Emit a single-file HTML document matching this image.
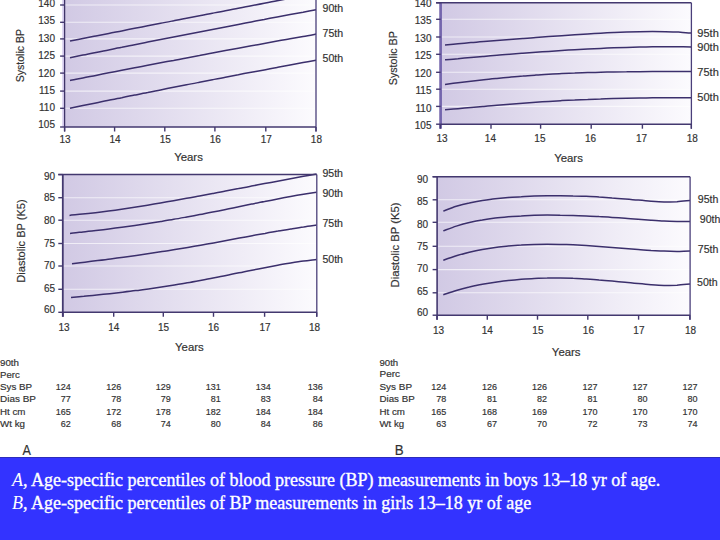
<!DOCTYPE html>
<html><head><meta charset="utf-8">
<style>
html,body{margin:0;padding:0;width:720px;height:540px;overflow:hidden;background:#fff;}
svg{position:absolute;left:0;top:0;}
svg text{font-family:"Liberation Sans",sans-serif;fill:#303030;stroke:#3a3a3a;stroke-width:0.18px;}
#cap{position:absolute;left:0;top:457px;width:720px;height:83px;background:#3333ff;border-top:1px solid #2d2dbb;box-sizing:border-box;}
#cap i{-webkit-text-stroke:0;}
#cap p{margin:0;position:absolute;left:12px;font-family:"Liberation Serif",serif;font-size:18px;color:#fff;white-space:nowrap;line-height:1;-webkit-text-stroke:0.35px #fff;}
</style></head><body>
<svg width="720" height="457" viewBox="0 0 720 457">
<defs><linearGradient id="ga1" x1="0" y1="0" x2="1" y2="0"><stop offset="0" stop-color="#d1c9e4"/><stop offset="1" stop-color="#fcfbfe"/></linearGradient></defs>
<rect x="64.6" y="-20.0" width="251.4" height="147.0" fill="url(#ga1)"/>
<line x1="64.60" y1="5.00" x2="316.00" y2="5.00" stroke="#fff" stroke-width="1.10" stroke-opacity="0.65"/>
<line x1="64.60" y1="22.30" x2="316.00" y2="22.30" stroke="#fff" stroke-width="1.10" stroke-opacity="0.65"/>
<line x1="64.60" y1="38.90" x2="316.00" y2="38.90" stroke="#fff" stroke-width="1.10" stroke-opacity="0.65"/>
<line x1="64.60" y1="56.10" x2="316.00" y2="56.10" stroke="#fff" stroke-width="1.10" stroke-opacity="0.65"/>
<line x1="64.60" y1="73.10" x2="316.00" y2="73.10" stroke="#fff" stroke-width="1.10" stroke-opacity="0.65"/>
<line x1="64.60" y1="91.10" x2="316.00" y2="91.10" stroke="#fff" stroke-width="1.10" stroke-opacity="0.65"/>
<line x1="64.60" y1="108.30" x2="316.00" y2="108.30" stroke="#fff" stroke-width="1.10" stroke-opacity="0.65"/>
<path d="M70.0,41.0 C72.2,40.6 78.6,39.3 82.9,38.5 C87.3,37.6 91.6,36.8 95.9,35.9 C100.2,35.1 104.5,34.2 108.8,33.4 C113.2,32.6 117.5,31.7 121.8,30.9 C126.1,30.0 130.4,29.2 134.7,28.3 C139.1,27.5 143.4,26.7 147.7,25.8 C152.0,25.0 156.3,24.1 160.6,23.3 C164.9,22.4 169.3,21.6 173.6,20.8 C177.9,19.9 182.2,19.1 186.5,18.3 C190.8,17.4 195.2,16.6 199.5,15.7 C203.8,14.9 208.1,14.1 212.4,13.2 C216.7,12.4 221.1,11.6 225.4,10.7 C229.7,9.9 234.0,9.1 238.3,8.2 C242.6,7.4 246.9,6.6 251.3,5.7 C255.6,4.9 259.9,4.1 264.2,3.2 C268.5,2.4 272.8,1.6 277.2,0.7 C281.5,-0.1 285.8,-0.9 290.1,-1.7 C294.4,-2.6 298.7,-3.4 303.1,-4.2 C307.4,-5.1 313.8,-6.3 316.0,-6.7" fill="none" stroke="#3b2f6c" stroke-width="1.5"/>
<path d="M70.0,57.8 C72.2,57.3 78.6,56.0 82.9,55.1 C87.3,54.3 91.6,53.4 95.9,52.5 C100.2,51.6 104.5,50.7 108.8,49.9 C113.2,49.0 117.5,48.1 121.8,47.3 C126.1,46.4 130.4,45.5 134.7,44.7 C139.1,43.8 143.4,43.0 147.7,42.1 C152.0,41.2 156.3,40.4 160.6,39.5 C164.9,38.7 169.3,37.8 173.6,37.0 C177.9,36.1 182.2,35.3 186.5,34.4 C190.8,33.6 195.2,32.7 199.5,31.9 C203.8,31.1 208.1,30.2 212.4,29.4 C216.7,28.6 221.1,27.7 225.4,26.9 C229.7,26.1 234.0,25.2 238.3,24.4 C242.6,23.6 246.9,22.7 251.3,21.9 C255.6,21.1 259.9,20.3 264.2,19.5 C268.5,18.6 272.8,17.8 277.2,17.0 C281.5,16.2 285.8,15.4 290.1,14.6 C294.4,13.8 298.7,13.0 303.1,12.2 C307.4,11.3 313.8,10.1 316.0,9.7" fill="none" stroke="#3b2f6c" stroke-width="1.5"/>
<path d="M70.0,80.5 C72.2,80.0 78.6,78.8 82.9,77.9 C87.3,77.1 91.6,76.2 95.9,75.4 C100.2,74.5 104.5,73.7 108.8,72.8 C113.2,72.0 117.5,71.1 121.8,70.3 C126.1,69.5 130.4,68.6 134.7,67.8 C139.1,67.0 143.4,66.1 147.7,65.3 C152.0,64.5 156.3,63.6 160.6,62.8 C164.9,62.0 169.3,61.2 173.6,60.4 C177.9,59.5 182.2,58.7 186.5,57.9 C190.8,57.1 195.2,56.3 199.5,55.5 C203.8,54.6 208.1,53.8 212.4,53.0 C216.7,52.2 221.1,51.4 225.4,50.6 C229.7,49.8 234.0,49.0 238.3,48.2 C242.6,47.4 246.9,46.6 251.3,45.8 C255.6,45.0 259.9,44.3 264.2,43.5 C268.5,42.7 272.8,41.9 277.2,41.1 C281.5,40.3 285.8,39.5 290.1,38.8 C294.4,38.0 298.7,37.2 303.1,36.4 C307.4,35.7 313.8,34.5 316.0,34.1" fill="none" stroke="#3b2f6c" stroke-width="1.5"/>
<path d="M70.0,108.3 C72.2,107.8 78.6,106.5 82.9,105.6 C87.3,104.7 91.6,103.8 95.9,102.9 C100.2,102.1 104.5,101.2 108.8,100.3 C113.2,99.4 117.5,98.5 121.8,97.7 C126.1,96.8 130.4,95.9 134.7,95.1 C139.1,94.2 143.4,93.3 147.7,92.5 C152.0,91.6 156.3,90.7 160.6,89.9 C164.9,89.0 169.3,88.2 173.6,87.3 C177.9,86.5 182.2,85.6 186.5,84.8 C190.8,83.9 195.2,83.1 199.5,82.3 C203.8,81.4 208.1,80.6 212.4,79.7 C216.7,78.9 221.1,78.1 225.4,77.2 C229.7,76.4 234.0,75.6 238.3,74.8 C242.6,73.9 246.9,73.1 251.3,72.3 C255.6,71.5 259.9,70.7 264.2,69.9 C268.5,69.1 272.8,68.2 277.2,67.4 C281.5,66.6 285.8,65.8 290.1,65.0 C294.4,64.2 298.7,63.4 303.1,62.6 C307.4,61.8 313.8,60.7 316.0,60.3" fill="none" stroke="#3b2f6c" stroke-width="1.5"/>
<line x1="63.20" y1="-20.00" x2="63.20" y2="127.00" stroke="#d9d0f0" stroke-width="2.00"/>
<line x1="64.60" y1="-20.00" x2="64.60" y2="131.50" stroke="#3f3468" stroke-width="1.30"/>
<line x1="316.00" y1="-20.00" x2="316.00" y2="131.50" stroke="#4a3f7a" stroke-width="1.30"/>
<line x1="64.60" y1="127.00" x2="316.00" y2="127.00" stroke="#43386f" stroke-width="1.40"/>
<line x1="60.10" y1="5.00" x2="64.60" y2="5.00" stroke="#43386f" stroke-width="1.40"/>
<text x="55.0" y="6.8" text-anchor="end" font-size="10">140</text>
<line x1="60.10" y1="22.30" x2="64.60" y2="22.30" stroke="#43386f" stroke-width="1.40"/>
<text x="55.0" y="24.3" text-anchor="end" font-size="10">135</text>
<line x1="60.10" y1="38.90" x2="64.60" y2="38.90" stroke="#43386f" stroke-width="1.40"/>
<text x="55.0" y="41.9" text-anchor="end" font-size="10">130</text>
<line x1="60.10" y1="56.10" x2="64.60" y2="56.10" stroke="#43386f" stroke-width="1.40"/>
<text x="55.0" y="59.0" text-anchor="end" font-size="10">125</text>
<line x1="60.10" y1="73.10" x2="64.60" y2="73.10" stroke="#43386f" stroke-width="1.40"/>
<text x="55.0" y="76.6" text-anchor="end" font-size="10">120</text>
<line x1="60.10" y1="91.10" x2="64.60" y2="91.10" stroke="#43386f" stroke-width="1.40"/>
<text x="55.0" y="93.8" text-anchor="end" font-size="10">115</text>
<line x1="60.10" y1="108.30" x2="64.60" y2="108.30" stroke="#43386f" stroke-width="1.40"/>
<text x="55.0" y="111.4" text-anchor="end" font-size="10">110</text>
<line x1="60.10" y1="127.00" x2="64.60" y2="127.00" stroke="#43386f" stroke-width="1.40"/>
<text x="55.0" y="128.2" text-anchor="end" font-size="10">105</text>
<line x1="64.60" y1="127.00" x2="64.60" y2="131.50" stroke="#43386f" stroke-width="1.40"/>
<text x="65.0" y="143.2" text-anchor="middle" font-size="10">13</text>
<line x1="114.60" y1="127.00" x2="114.60" y2="131.50" stroke="#43386f" stroke-width="1.40"/>
<text x="115.0" y="143.2" text-anchor="middle" font-size="10">14</text>
<line x1="164.80" y1="127.00" x2="164.80" y2="131.50" stroke="#43386f" stroke-width="1.40"/>
<text x="165.2" y="143.2" text-anchor="middle" font-size="10">15</text>
<line x1="214.90" y1="127.00" x2="214.90" y2="131.50" stroke="#43386f" stroke-width="1.40"/>
<text x="215.3" y="143.2" text-anchor="middle" font-size="10">16</text>
<line x1="265.80" y1="127.00" x2="265.80" y2="131.50" stroke="#43386f" stroke-width="1.40"/>
<text x="266.2" y="143.2" text-anchor="middle" font-size="10">17</text>
<line x1="316.00" y1="127.00" x2="316.00" y2="131.50" stroke="#43386f" stroke-width="1.40"/>
<text x="316.4" y="143.2" text-anchor="middle" font-size="10">18</text>
<text x="188.5" y="161.2" text-anchor="middle" font-size="11" textLength="28.7" lengthAdjust="spacingAndGlyphs">Years</text>
<text transform="translate(23.5,55.6) rotate(-90)" text-anchor="middle" font-size="11" textLength="53.3" lengthAdjust="spacingAndGlyphs">Systolic BP</text>
<text x="322.5" y="12.0" font-size="10" textLength="20.6" lengthAdjust="spacingAndGlyphs">90th</text>
<text x="322.5" y="36.6" font-size="10" textLength="20.6" lengthAdjust="spacingAndGlyphs">75th</text>
<text x="322.5" y="62.0" font-size="10" textLength="20.6" lengthAdjust="spacingAndGlyphs">50th</text>
<defs><linearGradient id="ga2" x1="0" y1="0" x2="1" y2="0"><stop offset="0" stop-color="#d1c9e4"/><stop offset="1" stop-color="#fcfbfe"/></linearGradient></defs>
<rect x="62.8" y="174.6" width="254.0" height="137.7" fill="url(#ga2)"/>
<line x1="62.80" y1="197.70" x2="316.80" y2="197.70" stroke="#fff" stroke-width="1.10" stroke-opacity="0.65"/>
<line x1="62.80" y1="220.20" x2="316.80" y2="220.20" stroke="#fff" stroke-width="1.10" stroke-opacity="0.65"/>
<line x1="62.80" y1="243.50" x2="316.80" y2="243.50" stroke="#fff" stroke-width="1.10" stroke-opacity="0.65"/>
<line x1="62.80" y1="266.00" x2="316.80" y2="266.00" stroke="#fff" stroke-width="1.10" stroke-opacity="0.65"/>
<line x1="62.80" y1="289.30" x2="316.80" y2="289.30" stroke="#fff" stroke-width="1.10" stroke-opacity="0.65"/>
<path d="M69.5,215.4 C71.7,215.1 78.2,214.6 82.5,214.1 C86.8,213.7 91.2,213.2 95.5,212.7 C99.8,212.2 104.2,211.6 108.5,211.0 C112.8,210.5 117.2,209.9 121.5,209.2 C125.8,208.6 130.2,207.9 134.5,207.3 C138.8,206.6 143.2,205.9 147.5,205.2 C151.8,204.5 156.2,203.7 160.5,203.0 C164.8,202.2 169.2,201.5 173.5,200.7 C177.8,199.9 182.2,199.1 186.5,198.3 C190.8,197.6 195.2,196.7 199.5,195.9 C203.8,195.1 208.2,194.3 212.5,193.5 C216.8,192.7 221.2,191.9 225.5,191.0 C229.8,190.2 234.2,189.4 238.5,188.6 C242.8,187.7 247.2,186.9 251.5,186.1 C255.8,185.3 260.2,184.4 264.5,183.6 C268.8,182.8 273.2,182.0 277.5,181.2 C281.8,180.4 286.2,179.5 290.5,178.7 C294.8,177.9 299.2,177.1 303.5,176.3 C307.8,175.5 314.3,174.4 316.5,174.0" fill="none" stroke="#3b2f6c" stroke-width="1.5"/>
<path d="M70.0,233.4 C72.2,233.1 78.6,232.4 83.0,231.9 C87.3,231.5 91.6,231.0 95.9,230.5 C100.3,230.0 104.6,229.5 108.9,228.9 C113.2,228.4 117.6,227.8 121.9,227.3 C126.2,226.7 130.5,226.1 134.9,225.5 C139.2,224.9 143.5,224.2 147.8,223.6 C152.2,222.9 156.5,222.2 160.8,221.5 C165.1,220.8 169.5,220.1 173.8,219.3 C178.1,218.6 182.4,217.8 186.8,217.0 C191.1,216.2 195.4,215.4 199.7,214.6 C204.1,213.8 208.4,212.9 212.7,212.0 C217.0,211.2 221.4,210.3 225.7,209.4 C230.0,208.6 234.3,207.7 238.7,206.8 C243.0,205.9 247.3,205.0 251.6,204.1 C256.0,203.2 260.3,202.3 264.6,201.5 C268.9,200.6 273.3,199.7 277.6,198.9 C281.9,198.1 286.2,197.2 290.6,196.4 C294.9,195.7 299.2,194.9 303.5,194.2 C307.9,193.5 314.3,192.5 316.5,192.2" fill="none" stroke="#3b2f6c" stroke-width="1.5"/>
<path d="M72.0,263.8 C74.1,263.5 80.6,262.7 84.9,262.2 C89.2,261.6 93.4,261.1 97.7,260.5 C102.0,260.0 106.3,259.5 110.6,258.9 C114.9,258.3 119.2,257.8 123.5,257.2 C127.8,256.6 132.1,256.0 136.3,255.4 C140.6,254.8 144.9,254.2 149.2,253.6 C153.5,252.9 157.8,252.3 162.1,251.6 C166.4,250.9 170.7,250.3 174.9,249.6 C179.2,248.9 183.5,248.1 187.8,247.4 C192.1,246.7 196.4,245.9 200.7,245.2 C205.0,244.4 209.3,243.7 213.6,242.9 C217.8,242.1 222.1,241.3 226.4,240.5 C230.7,239.7 235.0,238.9 239.3,238.1 C243.6,237.3 247.9,236.5 252.2,235.7 C256.4,234.9 260.7,234.1 265.0,233.4 C269.3,232.6 273.6,231.8 277.9,231.1 C282.2,230.3 286.5,229.6 290.8,228.9 C295.1,228.2 299.3,227.5 303.6,226.9 C307.9,226.2 314.4,225.4 316.5,225.1" fill="none" stroke="#3b2f6c" stroke-width="1.5"/>
<path d="M71.0,297.5 C73.2,297.3 79.6,296.7 83.9,296.3 C88.2,295.8 92.5,295.4 96.8,295.0 C101.1,294.6 105.5,294.1 109.8,293.7 C114.1,293.2 118.4,292.7 122.7,292.2 C127.0,291.7 131.3,291.2 135.6,290.6 C139.9,290.1 144.2,289.5 148.5,288.9 C152.8,288.3 157.1,287.6 161.4,287.0 C165.8,286.3 170.1,285.6 174.4,284.9 C178.7,284.2 183.0,283.5 187.3,282.7 C191.6,282.0 195.9,281.2 200.2,280.4 C204.5,279.6 208.8,278.8 213.1,277.9 C217.4,277.1 221.7,276.3 226.1,275.4 C230.4,274.6 234.7,273.7 239.0,272.8 C243.3,272.0 247.6,271.1 251.9,270.2 C256.2,269.4 260.5,268.5 264.8,267.7 C269.1,266.9 273.4,266.1 277.7,265.3 C282.0,264.5 286.4,263.8 290.7,263.1 C295.0,262.4 299.3,261.7 303.6,261.1 C307.9,260.5 314.3,259.8 316.5,259.5" fill="none" stroke="#3b2f6c" stroke-width="1.5"/>
<line x1="62.80" y1="174.60" x2="62.80" y2="316.80" stroke="#43386f" stroke-width="1.80"/>
<line x1="316.80" y1="174.60" x2="316.80" y2="316.80" stroke="#4a3f7a" stroke-width="1.30"/>
<line x1="62.80" y1="312.30" x2="316.80" y2="312.30" stroke="#43386f" stroke-width="1.40"/>
<line x1="58.30" y1="174.60" x2="316.80" y2="174.60" stroke="#43386f" stroke-width="1.50"/>
<line x1="58.30" y1="174.60" x2="62.80" y2="174.60" stroke="#43386f" stroke-width="1.40"/>
<text x="55.0" y="180.2" text-anchor="end" font-size="10">90</text>
<line x1="58.30" y1="197.70" x2="62.80" y2="197.70" stroke="#43386f" stroke-width="1.40"/>
<text x="55.0" y="201.3" text-anchor="end" font-size="10">85</text>
<line x1="58.30" y1="220.20" x2="62.80" y2="220.20" stroke="#43386f" stroke-width="1.40"/>
<text x="55.0" y="223.8" text-anchor="end" font-size="10">80</text>
<line x1="58.30" y1="243.50" x2="62.80" y2="243.50" stroke="#43386f" stroke-width="1.40"/>
<text x="55.0" y="247.1" text-anchor="end" font-size="10">75</text>
<line x1="58.30" y1="266.00" x2="62.80" y2="266.00" stroke="#43386f" stroke-width="1.40"/>
<text x="55.0" y="268.7" text-anchor="end" font-size="10">70</text>
<line x1="58.30" y1="289.30" x2="62.80" y2="289.30" stroke="#43386f" stroke-width="1.40"/>
<text x="55.0" y="291.5" text-anchor="end" font-size="10">65</text>
<line x1="58.30" y1="312.30" x2="62.80" y2="312.30" stroke="#43386f" stroke-width="1.40"/>
<text x="55.0" y="312.6" text-anchor="end" font-size="10">60</text>
<line x1="63.00" y1="312.30" x2="63.00" y2="316.80" stroke="#43386f" stroke-width="1.40"/>
<text x="64.0" y="330.6" text-anchor="middle" font-size="10">13</text>
<line x1="113.70" y1="312.30" x2="113.70" y2="316.80" stroke="#43386f" stroke-width="1.40"/>
<text x="113.7" y="330.6" text-anchor="middle" font-size="10">14</text>
<line x1="163.30" y1="312.30" x2="163.30" y2="316.80" stroke="#43386f" stroke-width="1.40"/>
<text x="163.5" y="330.6" text-anchor="middle" font-size="10">15</text>
<line x1="213.50" y1="312.30" x2="213.50" y2="316.80" stroke="#43386f" stroke-width="1.40"/>
<text x="213.5" y="330.6" text-anchor="middle" font-size="10">16</text>
<line x1="264.60" y1="312.30" x2="264.60" y2="316.80" stroke="#43386f" stroke-width="1.40"/>
<text x="265.0" y="330.6" text-anchor="middle" font-size="10">17</text>
<line x1="316.70" y1="312.30" x2="316.70" y2="316.80" stroke="#43386f" stroke-width="1.40"/>
<text x="314.6" y="330.6" text-anchor="middle" font-size="10">18</text>
<text x="189.4" y="351.4" text-anchor="middle" font-size="11" textLength="28.7" lengthAdjust="spacingAndGlyphs">Years</text>
<text transform="translate(24.6,241.0) rotate(-90)" text-anchor="middle" font-size="11" textLength="83.3" lengthAdjust="spacingAndGlyphs">Diastolic BP (K5)</text>
<text x="322.4" y="177.1" font-size="10" textLength="20.6" lengthAdjust="spacingAndGlyphs">95th</text>
<text x="322.4" y="197.3" font-size="10" textLength="20.6" lengthAdjust="spacingAndGlyphs">90th</text>
<text x="322.4" y="227.1" font-size="10" textLength="20.6" lengthAdjust="spacingAndGlyphs">75th</text>
<text x="322.4" y="262.6" font-size="10" textLength="20.6" lengthAdjust="spacingAndGlyphs">50th</text>
<defs><linearGradient id="gb1" x1="0" y1="0" x2="1" y2="0"><stop offset="0" stop-color="#d1c9e4"/><stop offset="1" stop-color="#fcfbfe"/></linearGradient></defs>
<rect x="440.6" y="2.8" width="250.8" height="121.4" fill="url(#gb1)"/>
<line x1="440.60" y1="19.30" x2="691.40" y2="19.30" stroke="#fff" stroke-width="1.10" stroke-opacity="0.65"/>
<line x1="440.60" y1="37.00" x2="691.40" y2="37.00" stroke="#fff" stroke-width="1.10" stroke-opacity="0.65"/>
<line x1="440.60" y1="54.30" x2="691.40" y2="54.30" stroke="#fff" stroke-width="1.10" stroke-opacity="0.65"/>
<line x1="440.60" y1="72.30" x2="691.40" y2="72.30" stroke="#fff" stroke-width="1.10" stroke-opacity="0.65"/>
<line x1="440.60" y1="89.20" x2="691.40" y2="89.20" stroke="#fff" stroke-width="1.10" stroke-opacity="0.65"/>
<line x1="440.60" y1="106.40" x2="691.40" y2="106.40" stroke="#fff" stroke-width="1.10" stroke-opacity="0.65"/>
<path d="M445.0,45.0 C447.2,44.8 453.6,44.2 458.0,43.8 C462.3,43.4 466.6,43.0 470.9,42.6 C475.3,42.3 479.6,41.9 483.9,41.5 C488.2,41.2 492.6,40.8 496.9,40.5 C501.2,40.2 505.5,39.8 509.8,39.5 C514.2,39.2 518.5,38.8 522.8,38.5 C527.1,38.2 531.5,37.9 535.8,37.5 C540.1,37.2 544.4,36.9 548.7,36.6 C553.1,36.3 557.4,36.0 561.7,35.7 C566.0,35.4 570.4,35.1 574.7,34.8 C579.0,34.5 583.3,34.2 587.7,33.9 C592.0,33.7 596.3,33.4 600.6,33.2 C604.9,33.0 609.3,32.7 613.6,32.5 C617.9,32.3 622.2,32.2 626.6,32.0 C630.9,31.9 635.2,31.8 639.5,31.7 C643.8,31.6 648.2,31.6 652.5,31.6 C656.8,31.6 661.1,31.6 665.5,31.7 C669.8,31.8 674.1,31.9 678.4,32.1 C682.8,32.4 689.2,32.8 691.4,33.0" fill="none" stroke="#3b2f6c" stroke-width="1.5"/>
<path d="M445.0,59.8 C447.2,59.6 453.6,59.0 458.0,58.7 C462.3,58.3 466.6,57.9 470.9,57.5 C475.3,57.1 479.6,56.8 483.9,56.4 C488.2,56.0 492.6,55.7 496.9,55.3 C501.2,54.9 505.5,54.6 509.8,54.3 C514.2,53.9 518.5,53.6 522.8,53.2 C527.1,52.9 531.5,52.6 535.8,52.3 C540.1,52.0 544.4,51.7 548.7,51.4 C553.1,51.1 557.4,50.8 561.7,50.5 C566.0,50.2 570.4,50.0 574.7,49.7 C579.0,49.5 583.3,49.2 587.7,49.0 C592.0,48.8 596.3,48.6 600.6,48.4 C604.9,48.2 609.3,48.0 613.6,47.8 C617.9,47.7 622.2,47.5 626.6,47.4 C630.9,47.3 635.2,47.2 639.5,47.1 C643.8,47.0 648.2,46.9 652.5,46.8 C656.8,46.8 661.1,46.7 665.5,46.7 C669.8,46.7 674.1,46.7 678.4,46.7 C682.8,46.8 689.2,46.9 691.4,46.9" fill="none" stroke="#3b2f6c" stroke-width="1.5"/>
<path d="M445.0,84.5 C447.2,84.2 453.6,83.3 458.0,82.7 C462.3,82.2 466.6,81.7 470.9,81.2 C475.3,80.7 479.6,80.2 483.9,79.7 C488.2,79.2 492.6,78.8 496.9,78.4 C501.2,77.9 505.5,77.5 509.8,77.2 C514.2,76.8 518.5,76.4 522.8,76.1 C527.1,75.7 531.5,75.4 535.8,75.1 C540.1,74.9 544.4,74.6 548.7,74.3 C553.1,74.1 557.4,73.9 561.7,73.6 C566.0,73.4 570.4,73.2 574.7,73.1 C579.0,72.9 583.3,72.7 587.7,72.6 C592.0,72.5 596.3,72.4 600.6,72.2 C604.9,72.1 609.3,72.1 613.6,72.0 C617.9,71.9 622.2,71.8 626.6,71.8 C630.9,71.7 635.2,71.7 639.5,71.7 C643.8,71.6 648.2,71.6 652.5,71.6 C656.8,71.6 661.1,71.6 665.5,71.5 C669.8,71.5 674.1,71.5 678.4,71.5 C682.8,71.5 689.2,71.5 691.4,71.5" fill="none" stroke="#3b2f6c" stroke-width="1.5"/>
<path d="M445.0,109.8 C447.2,109.6 453.6,109.1 458.0,108.7 C462.3,108.3 466.6,107.9 470.9,107.5 C475.3,107.1 479.6,106.8 483.9,106.4 C488.2,106.0 492.6,105.6 496.9,105.3 C501.2,104.9 505.5,104.6 509.8,104.2 C514.2,103.9 518.5,103.5 522.8,103.2 C527.1,102.9 531.5,102.6 535.8,102.3 C540.1,102.0 544.4,101.7 548.7,101.4 C553.1,101.1 557.4,100.9 561.7,100.6 C566.0,100.4 570.4,100.2 574.7,100.0 C579.0,99.7 583.3,99.5 587.7,99.4 C592.0,99.2 596.3,99.0 600.6,98.9 C604.9,98.7 609.3,98.6 613.6,98.5 C617.9,98.4 622.2,98.3 626.6,98.2 C630.9,98.1 635.2,98.0 639.5,98.0 C643.8,97.9 648.2,97.9 652.5,97.8 C656.8,97.8 661.1,97.8 665.5,97.8 C669.8,97.7 674.1,97.7 678.4,97.7 C682.8,97.7 689.2,97.8 691.4,97.8" fill="none" stroke="#3b2f6c" stroke-width="1.5"/>
<line x1="440.60" y1="2.80" x2="440.60" y2="128.70" stroke="#7466ad" stroke-width="2.70"/>
<line x1="691.40" y1="2.80" x2="691.40" y2="128.70" stroke="#4a3f7a" stroke-width="1.30"/>
<line x1="440.60" y1="124.20" x2="691.40" y2="124.20" stroke="#43386f" stroke-width="1.40"/>
<line x1="436.10" y1="2.80" x2="691.40" y2="2.80" stroke="#43386f" stroke-width="1.50"/>
<line x1="436.10" y1="2.80" x2="440.60" y2="2.80" stroke="#43386f" stroke-width="1.40"/>
<text x="431.5" y="6.8" text-anchor="end" font-size="10">140</text>
<line x1="436.10" y1="19.30" x2="440.60" y2="19.30" stroke="#43386f" stroke-width="1.40"/>
<text x="431.5" y="24.3" text-anchor="end" font-size="10">135</text>
<line x1="436.10" y1="37.00" x2="440.60" y2="37.00" stroke="#43386f" stroke-width="1.40"/>
<text x="431.5" y="41.9" text-anchor="end" font-size="10">130</text>
<line x1="436.10" y1="54.30" x2="440.60" y2="54.30" stroke="#43386f" stroke-width="1.40"/>
<text x="431.5" y="59.4" text-anchor="end" font-size="10">125</text>
<line x1="436.10" y1="72.30" x2="440.60" y2="72.30" stroke="#43386f" stroke-width="1.40"/>
<text x="431.5" y="77.0" text-anchor="end" font-size="10">120</text>
<line x1="436.10" y1="89.20" x2="440.60" y2="89.20" stroke="#43386f" stroke-width="1.40"/>
<text x="431.5" y="94.1" text-anchor="end" font-size="10">115</text>
<line x1="436.10" y1="106.40" x2="440.60" y2="106.40" stroke="#43386f" stroke-width="1.40"/>
<text x="431.5" y="111.6" text-anchor="end" font-size="10">110</text>
<line x1="436.10" y1="124.20" x2="440.60" y2="124.20" stroke="#43386f" stroke-width="1.40"/>
<text x="431.5" y="128.5" text-anchor="end" font-size="10">105</text>
<line x1="440.30" y1="124.20" x2="440.30" y2="128.70" stroke="#43386f" stroke-width="1.40"/>
<text x="442.0" y="142.2" text-anchor="middle" font-size="10">13</text>
<line x1="491.00" y1="124.20" x2="491.00" y2="128.70" stroke="#43386f" stroke-width="1.40"/>
<text x="490.4" y="142.2" text-anchor="middle" font-size="10">14</text>
<line x1="540.60" y1="124.20" x2="540.60" y2="128.70" stroke="#43386f" stroke-width="1.40"/>
<text x="539.9" y="142.2" text-anchor="middle" font-size="10">15</text>
<line x1="591.20" y1="124.20" x2="591.20" y2="128.70" stroke="#43386f" stroke-width="1.40"/>
<text x="590.5" y="142.2" text-anchor="middle" font-size="10">16</text>
<line x1="642.40" y1="124.20" x2="642.40" y2="128.70" stroke="#43386f" stroke-width="1.40"/>
<text x="641.6" y="142.2" text-anchor="middle" font-size="10">17</text>
<line x1="691.30" y1="124.20" x2="691.30" y2="128.70" stroke="#43386f" stroke-width="1.40"/>
<text x="692.3" y="142.2" text-anchor="middle" font-size="10">18</text>
<text x="568.5" y="161.6" text-anchor="middle" font-size="11" textLength="28.7" lengthAdjust="spacingAndGlyphs">Years</text>
<text transform="translate(397.0,58.2) rotate(-90)" text-anchor="middle" font-size="11" textLength="54.1" lengthAdjust="spacingAndGlyphs">Systolic BP</text>
<text x="697.3" y="36.6" font-size="10" textLength="21.5" lengthAdjust="spacingAndGlyphs">95th</text>
<text x="697.3" y="50.7" font-size="10" textLength="21.5" lengthAdjust="spacingAndGlyphs">90th</text>
<text x="697.3" y="76.1" font-size="10" textLength="21.5" lengthAdjust="spacingAndGlyphs">75th</text>
<text x="697.3" y="101.1" font-size="10" textLength="21.5" lengthAdjust="spacingAndGlyphs">50th</text>
<defs><linearGradient id="gb2" x1="0" y1="0" x2="1" y2="0"><stop offset="0" stop-color="#d1c9e4"/><stop offset="1" stop-color="#fcfbfe"/></linearGradient></defs>
<rect x="437.1" y="176.7" width="253.0" height="138.5" fill="url(#gb2)"/>
<line x1="437.10" y1="199.80" x2="690.10" y2="199.80" stroke="#fff" stroke-width="1.10" stroke-opacity="0.65"/>
<line x1="437.10" y1="222.30" x2="690.10" y2="222.30" stroke="#fff" stroke-width="1.10" stroke-opacity="0.65"/>
<line x1="437.10" y1="246.30" x2="690.10" y2="246.30" stroke="#fff" stroke-width="1.10" stroke-opacity="0.65"/>
<line x1="437.10" y1="269.60" x2="690.10" y2="269.60" stroke="#fff" stroke-width="1.10" stroke-opacity="0.65"/>
<line x1="437.10" y1="292.80" x2="690.10" y2="292.80" stroke="#fff" stroke-width="1.10" stroke-opacity="0.65"/>
<path d="M443.3,211.1 C445.5,210.3 452.0,207.6 456.3,206.3 C460.6,204.9 464.9,203.8 469.3,202.9 C473.6,201.9 477.9,201.1 482.3,200.4 C486.6,199.8 490.9,199.2 495.2,198.7 C499.6,198.3 503.9,197.9 508.2,197.5 C512.5,197.2 516.9,196.9 521.2,196.7 C525.5,196.4 529.9,196.3 534.2,196.1 C538.5,196.0 542.8,195.9 547.2,195.8 C551.5,195.7 555.8,195.7 560.2,195.7 C564.5,195.7 568.8,195.8 573.1,195.9 C577.5,195.9 581.8,196.1 586.1,196.3 C590.5,196.5 594.8,196.7 599.1,197.0 C603.4,197.2 607.8,197.5 612.1,197.9 C616.4,198.2 620.8,198.6 625.1,199.0 C629.4,199.4 633.7,199.8 638.1,200.1 C642.4,200.5 646.7,200.9 651.0,201.2 C655.4,201.5 659.7,201.8 664.0,201.9 C668.4,201.9 672.7,202.0 677.0,201.8 C681.3,201.5 687.8,200.7 690.0,200.5" fill="none" stroke="#3b2f6c" stroke-width="1.5"/>
<path d="M443.3,230.9 C445.5,230.1 452.0,227.5 456.3,226.1 C460.6,224.8 464.9,223.6 469.3,222.6 C473.6,221.6 477.9,220.7 482.3,220.0 C486.6,219.2 490.9,218.6 495.2,218.1 C499.6,217.5 503.9,217.1 508.2,216.7 C512.5,216.4 516.9,216.1 521.2,215.9 C525.5,215.6 529.9,215.5 534.2,215.3 C538.5,215.2 542.8,215.2 547.2,215.1 C551.5,215.1 555.8,215.1 560.2,215.2 C564.5,215.2 568.8,215.3 573.1,215.4 C577.5,215.5 581.8,215.7 586.1,215.9 C590.5,216.1 594.8,216.3 599.1,216.6 C603.4,216.8 607.8,217.1 612.1,217.4 C616.4,217.7 620.8,218.0 625.1,218.3 C629.4,218.7 633.7,219.0 638.1,219.3 C642.4,219.6 646.7,220.0 651.0,220.3 C655.4,220.6 659.7,220.9 664.0,221.1 C668.4,221.3 672.7,221.4 677.0,221.5 C681.3,221.6 687.8,221.4 690.0,221.4" fill="none" stroke="#3b2f6c" stroke-width="1.5"/>
<path d="M443.3,260.3 C445.5,259.5 452.0,257.1 456.3,255.8 C460.6,254.4 464.9,253.3 469.3,252.2 C473.6,251.2 477.9,250.3 482.3,249.5 C486.6,248.7 490.9,248.0 495.2,247.4 C499.6,246.8 503.9,246.4 508.2,245.9 C512.5,245.5 516.9,245.2 521.2,245.0 C525.5,244.7 529.9,244.5 534.2,244.4 C538.5,244.3 542.8,244.3 547.2,244.3 C551.5,244.3 555.8,244.3 560.2,244.4 C564.5,244.5 568.8,244.7 573.1,244.8 C577.5,245.0 581.8,245.3 586.1,245.5 C590.5,245.8 594.8,246.1 599.1,246.4 C603.4,246.7 607.8,247.1 612.1,247.4 C616.4,247.8 620.8,248.1 625.1,248.5 C629.4,248.8 633.7,249.2 638.1,249.5 C642.4,249.9 646.7,250.2 651.0,250.5 C655.4,250.7 659.7,251.0 664.0,251.1 C668.4,251.3 672.7,251.4 677.0,251.4 C681.3,251.3 687.8,251.0 690.0,251.0" fill="none" stroke="#3b2f6c" stroke-width="1.5"/>
<path d="M443.3,294.8 C445.5,294.1 452.0,291.8 456.3,290.5 C460.6,289.2 464.9,288.1 469.3,287.1 C473.6,286.0 477.9,285.2 482.3,284.3 C486.6,283.5 490.9,282.8 495.2,282.2 C499.6,281.6 503.9,281.0 508.2,280.5 C512.5,280.1 516.9,279.7 521.2,279.3 C525.5,279.0 529.9,278.7 534.2,278.5 C538.5,278.3 542.8,278.1 547.2,278.1 C551.5,278.0 555.8,278.0 560.2,278.0 C564.5,278.0 568.8,278.1 573.1,278.3 C577.5,278.4 581.8,278.7 586.1,278.9 C590.5,279.2 594.8,279.5 599.1,279.9 C603.4,280.2 607.8,280.6 612.1,281.0 C616.4,281.4 620.8,281.9 625.1,282.3 C629.4,282.8 633.7,283.2 638.1,283.6 C642.4,284.0 646.7,284.4 651.0,284.7 C655.4,285.0 659.7,285.3 664.0,285.4 C668.4,285.5 672.7,285.5 677.0,285.3 C681.3,285.0 687.8,284.2 690.0,284.0" fill="none" stroke="#3b2f6c" stroke-width="1.5"/>
<line x1="437.10" y1="176.70" x2="437.10" y2="319.70" stroke="#43386f" stroke-width="1.60"/>
<line x1="690.10" y1="176.70" x2="690.10" y2="319.70" stroke="#4a3f7a" stroke-width="1.30"/>
<line x1="437.10" y1="315.20" x2="690.10" y2="315.20" stroke="#43386f" stroke-width="1.40"/>
<line x1="432.60" y1="176.70" x2="690.10" y2="176.70" stroke="#43386f" stroke-width="1.50"/>
<line x1="432.60" y1="176.70" x2="437.10" y2="176.70" stroke="#43386f" stroke-width="1.40"/>
<text x="428.2" y="183.0" text-anchor="end" font-size="10">90</text>
<line x1="432.60" y1="199.80" x2="437.10" y2="199.80" stroke="#43386f" stroke-width="1.40"/>
<text x="428.2" y="205.1" text-anchor="end" font-size="10">85</text>
<line x1="432.60" y1="222.30" x2="437.10" y2="222.30" stroke="#43386f" stroke-width="1.40"/>
<text x="428.2" y="227.7" text-anchor="end" font-size="10">80</text>
<line x1="432.60" y1="246.30" x2="437.10" y2="246.30" stroke="#43386f" stroke-width="1.40"/>
<text x="428.2" y="249.9" text-anchor="end" font-size="10">75</text>
<line x1="432.60" y1="269.60" x2="437.10" y2="269.60" stroke="#43386f" stroke-width="1.40"/>
<text x="428.2" y="272.1" text-anchor="end" font-size="10">70</text>
<line x1="432.60" y1="292.80" x2="437.10" y2="292.80" stroke="#43386f" stroke-width="1.40"/>
<text x="428.2" y="295.0" text-anchor="end" font-size="10">65</text>
<line x1="432.60" y1="315.20" x2="437.10" y2="315.20" stroke="#43386f" stroke-width="1.40"/>
<text x="428.2" y="316.1" text-anchor="end" font-size="10">60</text>
<line x1="437.00" y1="315.20" x2="437.00" y2="319.70" stroke="#43386f" stroke-width="1.40"/>
<text x="438.6" y="334.1" text-anchor="middle" font-size="10">13</text>
<line x1="487.30" y1="315.20" x2="487.30" y2="319.70" stroke="#43386f" stroke-width="1.40"/>
<text x="487.3" y="334.1" text-anchor="middle" font-size="10">14</text>
<line x1="537.50" y1="315.20" x2="537.50" y2="319.70" stroke="#43386f" stroke-width="1.40"/>
<text x="537.9" y="334.1" text-anchor="middle" font-size="10">15</text>
<line x1="587.80" y1="315.20" x2="587.80" y2="319.70" stroke="#43386f" stroke-width="1.40"/>
<text x="588.4" y="334.1" text-anchor="middle" font-size="10">16</text>
<line x1="638.60" y1="315.20" x2="638.60" y2="319.70" stroke="#43386f" stroke-width="1.40"/>
<text x="638.9" y="334.1" text-anchor="middle" font-size="10">17</text>
<line x1="689.80" y1="315.20" x2="689.80" y2="319.70" stroke="#43386f" stroke-width="1.40"/>
<text x="690.6" y="334.1" text-anchor="middle" font-size="10">18</text>
<text x="566.2" y="355.6" text-anchor="middle" font-size="11" textLength="28.7" lengthAdjust="spacingAndGlyphs">Years</text>
<text transform="translate(398.8,245.0) rotate(-90)" text-anchor="middle" font-size="11" textLength="85.0" lengthAdjust="spacingAndGlyphs">Diastolic BP (K5)</text>
<text x="697.8" y="202.6" font-size="10" textLength="20.6" lengthAdjust="spacingAndGlyphs">95th</text>
<text x="699.8" y="222.6" font-size="10" textLength="20.6" lengthAdjust="spacingAndGlyphs">90th</text>
<text x="697.8" y="252.9" font-size="10" textLength="20.6" lengthAdjust="spacingAndGlyphs">75th</text>
<text x="697.0" y="286.4" font-size="10" textLength="20.6" lengthAdjust="spacingAndGlyphs">50th</text>
<text x="0.0" y="365.6" font-size="8.8" textLength="19.0" lengthAdjust="spacingAndGlyphs">90th</text>
<text x="0.0" y="377.6" font-size="8.8" textLength="19.7" lengthAdjust="spacingAndGlyphs">Perc</text>
<text x="0.0" y="390.3" font-size="8.8" textLength="32.1" lengthAdjust="spacingAndGlyphs">Sys BP</text>
<text x="0.0" y="402.2" font-size="8.8" textLength="35.9" lengthAdjust="spacingAndGlyphs">Dias BP</text>
<text x="0.0" y="414.9" font-size="8.8" textLength="25.4" lengthAdjust="spacingAndGlyphs">Ht cm</text>
<text x="0.0" y="427.0" font-size="8.8" textLength="25.0" lengthAdjust="spacingAndGlyphs">Wt kg</text>
<text x="70.7" y="390.4" text-anchor="end" font-size="9">124</text>
<text x="121.2" y="390.4" text-anchor="end" font-size="9">126</text>
<text x="170.7" y="390.4" text-anchor="end" font-size="9">129</text>
<text x="220.7" y="390.4" text-anchor="end" font-size="9">131</text>
<text x="270.7" y="390.4" text-anchor="end" font-size="9">134</text>
<text x="322.7" y="390.4" text-anchor="end" font-size="9">136</text>
<text x="70.7" y="402.3" text-anchor="end" font-size="9">77</text>
<text x="121.2" y="402.3" text-anchor="end" font-size="9">78</text>
<text x="170.7" y="402.3" text-anchor="end" font-size="9">79</text>
<text x="220.7" y="402.3" text-anchor="end" font-size="9">81</text>
<text x="270.7" y="402.3" text-anchor="end" font-size="9">83</text>
<text x="322.7" y="402.3" text-anchor="end" font-size="9">84</text>
<text x="70.7" y="415.0" text-anchor="end" font-size="9">165</text>
<text x="121.2" y="415.0" text-anchor="end" font-size="9">172</text>
<text x="170.7" y="415.0" text-anchor="end" font-size="9">178</text>
<text x="220.7" y="415.0" text-anchor="end" font-size="9">182</text>
<text x="270.7" y="415.0" text-anchor="end" font-size="9">184</text>
<text x="322.7" y="415.0" text-anchor="end" font-size="9">184</text>
<text x="70.7" y="427.1" text-anchor="end" font-size="9">62</text>
<text x="121.2" y="427.1" text-anchor="end" font-size="9">68</text>
<text x="170.7" y="427.1" text-anchor="end" font-size="9">74</text>
<text x="220.7" y="427.1" text-anchor="end" font-size="9">80</text>
<text x="270.7" y="427.1" text-anchor="end" font-size="9">84</text>
<text x="322.7" y="427.1" text-anchor="end" font-size="9">86</text>
<text x="379.5" y="365.7" font-size="8.8" textLength="18.7" lengthAdjust="spacingAndGlyphs">90th</text>
<text x="379.5" y="377.0" font-size="8.8" textLength="20.5" lengthAdjust="spacingAndGlyphs">Perc</text>
<text x="379.5" y="390.3" font-size="8.8" textLength="32.5" lengthAdjust="spacingAndGlyphs">Sys BP</text>
<text x="379.5" y="402.2" font-size="8.8" textLength="35.2" lengthAdjust="spacingAndGlyphs">Dias BP</text>
<text x="379.5" y="414.9" font-size="8.8" textLength="25.4" lengthAdjust="spacingAndGlyphs">Ht cm</text>
<text x="379.5" y="427.1" font-size="8.8" textLength="24.7" lengthAdjust="spacingAndGlyphs">Wt kg</text>
<text x="446.2" y="390.4" text-anchor="end" font-size="9">124</text>
<text x="497.0" y="390.4" text-anchor="end" font-size="9">126</text>
<text x="547.0" y="390.4" text-anchor="end" font-size="9">126</text>
<text x="597.5" y="390.4" text-anchor="end" font-size="9">127</text>
<text x="647.5" y="390.4" text-anchor="end" font-size="9">127</text>
<text x="697.5" y="390.4" text-anchor="end" font-size="9">127</text>
<text x="446.2" y="402.3" text-anchor="end" font-size="9">78</text>
<text x="497.0" y="402.3" text-anchor="end" font-size="9">81</text>
<text x="547.0" y="402.3" text-anchor="end" font-size="9">82</text>
<text x="597.5" y="402.3" text-anchor="end" font-size="9">81</text>
<text x="647.5" y="402.3" text-anchor="end" font-size="9">80</text>
<text x="697.5" y="402.3" text-anchor="end" font-size="9">80</text>
<text x="446.2" y="415.0" text-anchor="end" font-size="9">165</text>
<text x="497.0" y="415.0" text-anchor="end" font-size="9">168</text>
<text x="547.0" y="415.0" text-anchor="end" font-size="9">169</text>
<text x="597.5" y="415.0" text-anchor="end" font-size="9">170</text>
<text x="647.5" y="415.0" text-anchor="end" font-size="9">170</text>
<text x="697.5" y="415.0" text-anchor="end" font-size="9">170</text>
<text x="446.2" y="427.2" text-anchor="end" font-size="9">63</text>
<text x="497.0" y="427.2" text-anchor="end" font-size="9">67</text>
<text x="547.0" y="427.2" text-anchor="end" font-size="9">70</text>
<text x="597.5" y="427.2" text-anchor="end" font-size="9">72</text>
<text x="647.5" y="427.2" text-anchor="end" font-size="9">73</text>
<text x="697.5" y="427.2" text-anchor="end" font-size="9">74</text>
<text transform="translate(26.75,455.2) scale(0.9,1)" text-anchor="middle" font-size="14">A</text>
<text transform="translate(399.3,455.2) scale(0.95,1)" text-anchor="middle" font-size="14">B</text>
</svg>
<div id="cap">
<p style="top:13px"><i>A</i>, Age-specific percentiles of blood pressure (BP) measurements in boys 13&#8211;18 yr of age.</p>
<p style="top:35.8px"><i>B</i>, Age-specific percentiles of BP measurements in girls 13&#8211;18 yr of age</p>
</div>
</body></html>
